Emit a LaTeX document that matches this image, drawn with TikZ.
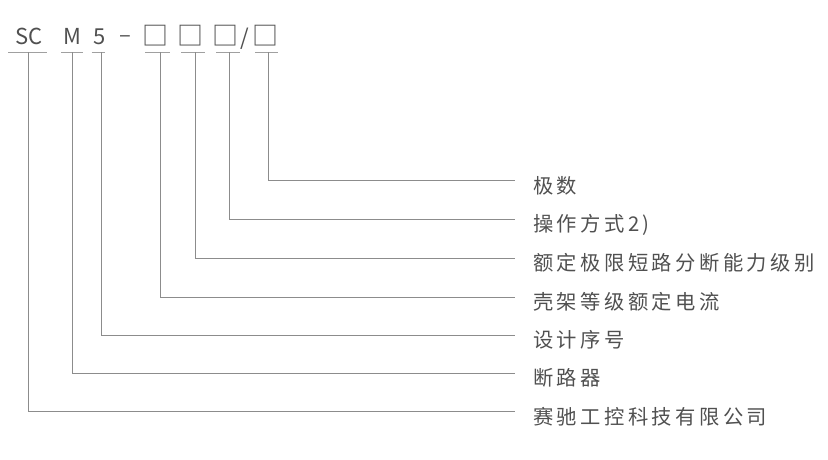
\documentclass[tikz,border=0pt]{standalone}
\usepackage{fontspec}
\newfontfamily\cjk[LetterSpace=17]{Noto Sans CJK SC}
\newfontfamily\cjkplain{Noto Sans CJK SC}
\definecolor{txt}{HTML}{505050}
\definecolor{ln}{HTML}{8C8C8C}
\definecolor{uln}{HTML}{A0A0A0}
\tikzset{
  code/.style={font=\cjkplain\fontsize{22}{22}\selectfont, text=txt, inner sep=0pt, anchor=base},
  sq/.style={font=\cjkplain\fontsize{26}{26}\selectfont, text=txt, inner sep=0pt, anchor=base},
  lbl/.style={font=\cjk\fontsize{20.3}{20}\selectfont, text=txt, inner sep=0pt, anchor=base west},
  lead/.style={draw=ln, line width=0.9pt},
  uline/.style={draw=uln, line width=0.9pt}
}
\begin{document}
\begin{tikzpicture}[x=1pt,y=-1pt]
\useasboundingbox (0,0) rectangle (828,459);
% code row
\node[code] (sc) at (28.7,44.3) {SC};
\node[code] (m) at (72.2,44.3) {M};
\node[code] (five) at (99.8,44.3) {5};
\node[code] (dash) at (125,42) {–};
\node[sq] (b1) at (155.9,45.3) {□};
\node[sq] (b2) at (190.9,45.3) {□};
\node[sq] (b3) at (225.9,45.3) {□};
\node[code] (slash) at (245,45) {/};
\node[sq] (b4) at (265.9,45.3) {□};
% underlines
\draw[uline] (8.3,52) -- (46.7,52);
\draw[uline] (61,52) -- (82.7,52);
\draw[uline] (91.7,52) -- (105,52);
\draw[uline] (145,52) -- (170,52);
\draw[uline] (181,52) -- (205,52);
\draw[uline] (216,52) -- (240,52);
\draw[uline] (255,52) -- (278.3,52);
% underline anchor points
\coordinate (usc) at (28.5,52);
\coordinate (um) at (72.7,52);
\coordinate (ufive) at (101.7,52);
\coordinate (ub1) at (160,52);
\coordinate (ub2) at (195,52);
\coordinate (ub3) at (229.5,52);
\coordinate (ub4) at (268.3,52);
% leader ends
\coordinate (e1) at (515,180.7);
\coordinate (e2) at (515,219.3);
\coordinate (e3) at (515,258.3);
\coordinate (e4) at (515,297);
\coordinate (e5) at (515,335);
\coordinate (e6) at (515,373.3);
\coordinate (e7) at (515,411.7);
% labels
\node[lbl] (l1) at (533,193.2) {极数};
\node[lbl] (l2) at (533,231.8) {操作方式2)};
\node[lbl] (l3) at (533,270.8) {额定极限短路分断能力级别};
\node[lbl] (l4) at (533,309.5) {壳架等级额定电流};
\node[lbl] (l5) at (533,347.5) {设计序号};
\node[lbl] (l6) at (533,385.8) {断路器};
\node[lbl] (l7) at (533,424.2) {赛驰工控科技有限公司};
% leaders
\draw[lead] (ub4) |- (e1);
\draw[lead] (ub3) |- (e2);
\draw[lead] (ub2) |- (e3);
\draw[lead] (ub1) |- (e4);
\draw[lead] (ufive) |- (e5);
\draw[lead] (um) |- (e6);
\draw[lead] (usc) |- (e7);
\end{tikzpicture}
\end{document}
